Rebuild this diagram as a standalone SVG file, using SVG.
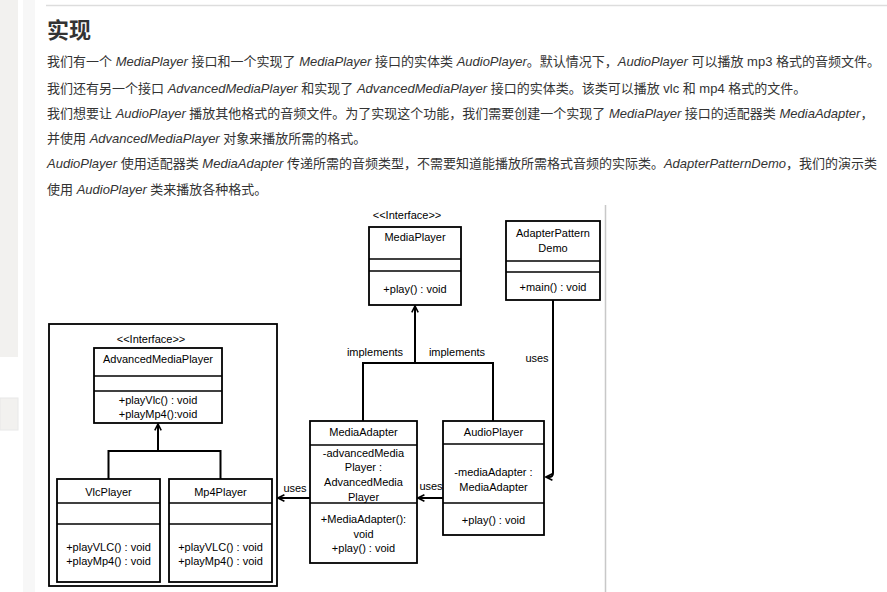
<svg xmlns="http://www.w3.org/2000/svg" width="887" height="592" viewBox="0 0 887 592">
<defs>
<style>
.p{font-family:"Liberation Sans","Noto Sans CJK SC",sans-serif;font-size:13px;fill:#333}
.i{font-style:italic}
.h{font-family:"Noto Sans CJK SC",sans-serif;font-size:22px;font-weight:bold;fill:#333}
.t{font-family:"Liberation Sans",Arial,sans-serif;font-size:11px;fill:#000;text-anchor:middle}
.l{font-family:"Liberation Sans",Arial,sans-serif;font-size:11px;fill:#000;text-anchor:middle}
.b{fill:#fff;stroke:#000;stroke-width:1.8}
.s{stroke:#000;stroke-width:1.6;fill:none}
.c{stroke:#000;stroke-width:2;fill:none}
</style>
<marker id="ah" viewBox="0 0 10 10" refX="9" refY="5" markerWidth="8" markerHeight="8" markerUnits="userSpaceOnUse" orient="auto">
<path d="M1,1 L9,5 L1,9" fill="none" stroke="#000" stroke-width="2"/>
</marker>
</defs>
<rect width="887" height="592" fill="#fff"/>
<g id="sidebar">
<rect x="0" y="0" width="18" height="357" fill="#f2f1ef"/>
<rect x="0" y="398" width="18" height="32" fill="#f2f1ef" stroke="#e8e8e8"/>
<rect x="23" y="0" width="12" height="592" fill="#f7f7f7"/>
</g>
<line x1="46" y1="5.5" x2="887" y2="5.5" stroke="#ddd" stroke-width="1.5"/>
<g id="text">
<text class="h" x="47" y="38">实现</text>
<text class="p" x="47" y="66">我们有一个 <tspan class="i">MediaPlayer</tspan> 接口和一个实现了 <tspan class="i">MediaPlayer</tspan> 接口的实体类 <tspan class="i">AudioPlayer</tspan>。默认情况下，<tspan class="i">AudioPlayer</tspan> 可以播放 mp3 格式的音频文件。</text>
<text class="p" x="47" y="93">我们还有另一个接口 <tspan class="i">AdvancedMediaPlayer</tspan> 和实现了 <tspan class="i">AdvancedMediaPlayer</tspan> 接口的实体类。该类可以播放 vlc 和 mp4 格式的文件。</text>
<text class="p" x="47" y="118">我们想要让 <tspan class="i">AudioPlayer</tspan> 播放其他格式的音频文件。为了实现这个功能，我们需要创建一个实现了 <tspan class="i">MediaPlayer</tspan> 接口的适配器类 <tspan class="i">MediaAdapter</tspan>，</text>
<text class="p" x="47" y="143">并使用 <tspan class="i">AdvancedMediaPlayer</tspan> 对象来播放所需的格式。</text>
<text class="p" x="47" y="168"><tspan class="i">AudioPlayer</tspan> 使用适配器类 <tspan class="i">MediaAdapter</tspan> 传递所需的音频类型，不需要知道能播放所需格式音频的实际类。<tspan class="i">AdapterPatternDemo</tspan>，我们的演示类</text>
<text class="p" x="47" y="194">使用 <tspan class="i">AudioPlayer</tspan> 类来播放各种格式。</text>
</g>
<line x1="605.5" y1="205" x2="605.5" y2="592" stroke="#c8c8c8" stroke-width="1.5"/>
<g id="outer">
<rect class="b" x="49" y="324" width="228" height="262"/>
</g>
<g id="MediaPlayer">
<text class="t" x="407" y="219">&lt;&lt;Interface&gt;&gt;</text>
<rect class="b" x="369" y="227" width="92" height="78"/>
<line class="s" x1="369" y1="259" x2="461" y2="259"/>
<line class="s" x1="369" y1="271" x2="461" y2="271"/>
<text class="t" x="415" y="241">MediaPlayer</text>
<text class="t" x="415" y="293">+play() : void</text>
</g>
<g id="AdapterPatternDemo">
<rect class="b" x="506" y="221" width="94" height="79"/>
<line class="s" x1="506" y1="261" x2="600" y2="261"/>
<line class="s" x1="506" y1="272" x2="600" y2="272"/>
<text class="t" x="553" y="237">AdapterPattern</text>
<text class="t" x="553" y="252">Demo</text>
<text class="t" x="553" y="291">+main() : void</text>
</g>
<g id="AdvancedMediaPlayer">
<text class="t" x="151" y="343">&lt;&lt;Interface&gt;&gt;</text>
<rect class="b" x="94" y="348" width="128" height="75"/>
<line class="s" x1="94" y1="376" x2="222" y2="376"/>
<line class="s" x1="94" y1="391" x2="222" y2="391"/>
<text class="t" x="158" y="363">AdvancedMediaPlayer</text>
<text class="t" x="158" y="404">+playVlc() : void</text>
<text class="t" x="158" y="418">+playMp4():void</text>
</g>
<g id="VlcPlayer">
<rect class="b" x="57" y="479" width="103" height="103"/>
<line class="s" x1="57" y1="503" x2="160" y2="503"/>
<line class="s" x1="57" y1="524" x2="160" y2="524"/>
<text class="t" x="108.5" y="496">VlcPlayer</text>
<text class="t" x="108.5" y="551">+playVLC() : void</text>
<text class="t" x="108.5" y="565">+playMp4() : void</text>
</g>
<g id="Mp4Player">
<rect class="b" x="169" y="479" width="103" height="103"/>
<line class="s" x1="169" y1="503" x2="272" y2="503"/>
<line class="s" x1="169" y1="524" x2="272" y2="524"/>
<text class="t" x="220.5" y="496">Mp4Player</text>
<text class="t" x="220.5" y="551">+playVLC() : void</text>
<text class="t" x="220.5" y="565">+playMp4() : void</text>
</g>
<g id="MediaAdapter">
<rect class="b" x="310" y="421" width="107" height="142"/>
<line class="s" x1="310" y1="445" x2="417" y2="445"/>
<line class="s" x1="310" y1="503" x2="417" y2="503"/>
<text class="t" x="363.5" y="436">MediaAdapter</text>
<text class="t" x="363.5" y="457">-advancedMedia</text>
<text class="t" x="363.5" y="471">Player :</text>
<text class="t" x="363.5" y="486">AdvancedMedia</text>
<text class="t" x="363.5" y="501">Player</text>
<text class="t" x="363.5" y="523">+MediaAdapter():</text>
<text class="t" x="363.5" y="538">void</text>
<text class="t" x="363.5" y="552">+play() : void</text>
</g>
<g id="AudioPlayer">
<rect class="b" x="443" y="421" width="101" height="114"/>
<line class="s" x1="443" y1="444" x2="544" y2="444"/>
<line class="s" x1="443" y1="503" x2="544" y2="503"/>
<text class="t" x="493.5" y="436">AudioPlayer</text>
<text class="t" x="493.5" y="476">-mediaAdapter :</text>
<text class="t" x="493.5" y="491">MediaAdapter</text>
<text class="t" x="493.5" y="524">+play() : void</text>
</g>
<g id="connectors">
<path class="c" d="M363,421 V363 H493 V421"/>
<path class="c" d="M415,363 V306" marker-end="url(#ah)"/>
<path class="c" d="M108.5,479 V451 H220.5 V479"/>
<path class="c" d="M158,451 V424" marker-end="url(#ah)"/>
<path class="c" d="M553,300 V473 Q553,477 549,477 H546" marker-end="url(#ah)"/>
<path class="c" d="M443,498 H418" marker-end="url(#ah)"/>
<path class="c" d="M310,498 H278" marker-end="url(#ah)"/>
<text class="l" x="375" y="356">implements</text>
<text class="l" x="457" y="356">implements</text>
<text class="l" x="537" y="362">uses</text>
<text class="l" x="431" y="490">uses</text>
<text class="l" x="295" y="492">uses</text>
</g>
</svg>
